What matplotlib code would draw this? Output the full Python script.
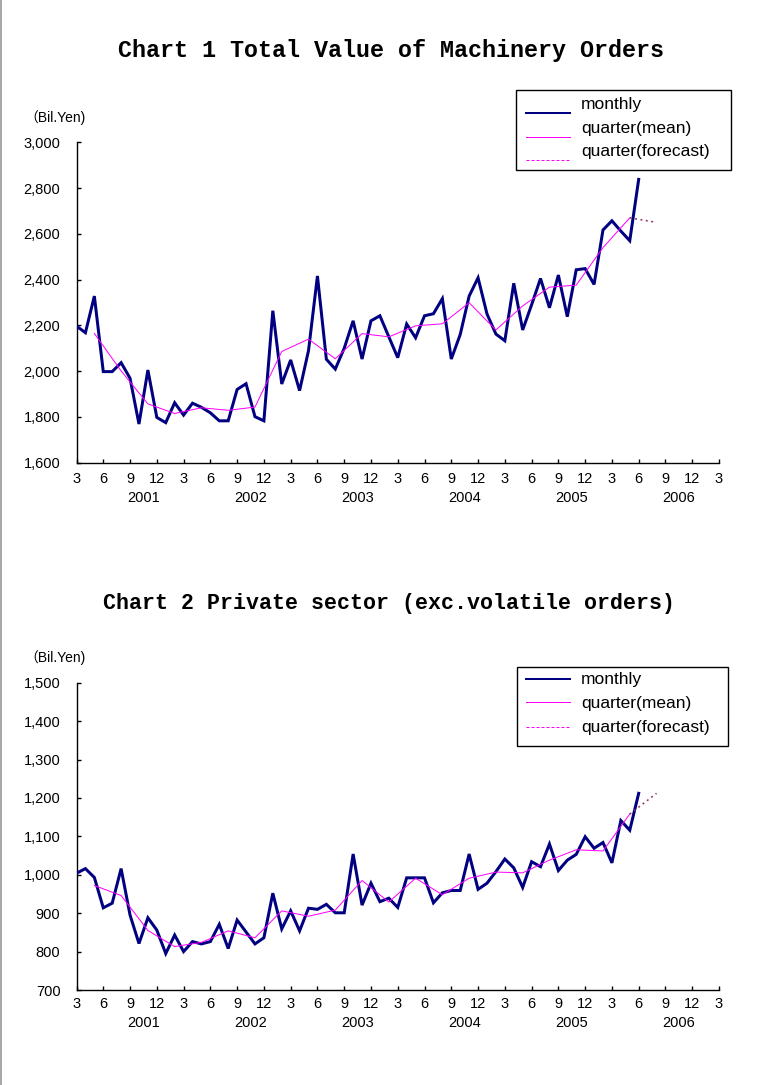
import matplotlib

matplotlib.use("Agg")
import matplotlib.pyplot as plt
from matplotlib.lines import Line2D
from matplotlib.patches import Rectangle

W, H = 772, 1085
NAVY, MAGENTA, PLUM, GRAY = "#000080", "#ff00ff", "#993366", "#a8a8a8"
SANS = ["Liberation Sans", "Noto Sans CJK JP", "DejaVu Sans"]
MONO = ["Liberation Mono", "DejaVu Sans Mono"]
PT = 0.72  # points per pixel at 100 dpi

# month index 0 = March 2001
MONTH_TICKS = list(range(0, 73, 3))
MONTH_LABELS = ["3", "6", "9", "12"] * 6 + ["3"]
YEARS = ["2001", "2002", "2003", "2004", "2005", "2006"]
YEAR_POS = [7.5, 19.5, 31.5, 43.5, 55.5, 67.5]
MONTHS = list(range(64))
QUARTER_MID = [2, 5, 8, 11, 14, 17, 20, 23, 26, 29, 32, 35, 38, 41, 44, 47, 50, 53, 56, 59, 62]
FORECAST_POS = [62, 65]

TOTAL_MONTHLY = [
    2197, 2168, 2328, 1998, 1998, 2037, 1969, 1769, 2005, 1798, 1775, 1862,
    1808, 1860, 1842, 1818, 1783, 1783, 1920, 1945, 1801, 1783, 2264, 1944,
    2049, 1915, 2090, 2416, 2052, 2009, 2100, 2220, 2053, 2220, 2242, 2150,
    2059, 2206, 2146, 2242, 2251, 2317, 2053, 2160, 2328, 2408, 2250, 2162,
    2133, 2384, 2180, 2290, 2405, 2277, 2420, 2238, 2443, 2448, 2379, 2617,
    2657, 2612, 2570, 2838,
]
TOTAL_QUARTER = [
    2165, 2001, 1857, 1815, 1840, 1829, 1843, 2086, 2140, 2054, 2164, 2150,
    2198, 2207, 2299, 2180, 2285, 2367, 2376, 2540, 2670,
]
TOTAL_FORECAST = [2670, 2650]

PRIVATE_MONTHLY = [
    1004, 1016, 993, 914, 926, 1016, 895, 821, 888, 856, 795, 843,
    800, 826, 820, 826, 871, 808, 882, 851, 820, 836, 952, 859,
    906, 854, 913, 910, 923, 901, 901, 1054, 921, 978, 930, 939,
    915, 992, 992, 992, 927, 953, 959, 959, 1054, 962, 978, 1008,
    1041, 1018, 967, 1034, 1021, 1080, 1011, 1038, 1053, 1099, 1069, 1084,
    1031, 1141, 1116, 1212,
]
PRIVATE_QUARTER = [
    972, 946, 855, 813, 824, 854, 836, 906, 892, 908, 985, 929,
    991, 948, 991, 1007, 1005, 1038, 1065, 1062, 1158,
]
PRIVATE_FORECAST = [1158, 1212]

LEGEND_TEXT = ["monthly", "quarter(mean)", "quarter(forecast)"]


def fx(x):
    return x / W


def fy(y):
    return 1 - y / H


def make_axes(fig, left, top, right, bottom):
    return fig.add_axes([fx(left), fy(bottom), fx(right) - fx(left), (bottom - top) / H])


def style_axes(ax, ylo, yhi, step, label_dy, year_dy):
    ax.set_xlim(0, 72)
    ax.set_ylim(ylo, yhi)
    for s in ("top", "right"):
        ax.spines[s].set_visible(False)
    for s in ("left", "bottom"):
        ax.spines[s].set_linewidth(1.0)
    ax.tick_params(direction="in", length=4 * PT, width=1.0, color="black")
    ax.set_yticks(range(ylo, yhi + 1, step))
    ax.set_yticklabels([f"{v:,}" for v in range(ylo, yhi + 1, step)],
                       family=SANS, fontsize=10.5, color="black")
    ax.tick_params(axis="y", pad=16 * PT)
    ax.set_xticks(MONTH_TICKS)
    ax.set_xticklabels([])
    for pos, lab in zip(MONTH_TICKS, MONTH_LABELS):
        ax.annotate(lab, (pos, 0), xycoords=("data", "axes fraction"),
                    xytext=(0, -label_dy * PT), textcoords="offset points",
                    ha="center", va="baseline", family=SANS, fontsize=10.5)
    for pos, lab in zip(YEAR_POS, YEARS):
        ax.annotate(lab, (pos, 0), xycoords=("data", "axes fraction"),
                    xytext=(0, -year_dy * PT), textcoords="offset points",
                    ha="center", va="baseline", family=SANS, fontsize=10.5)


def draw_series(ax, monthly, quarter, forecast):
    ax.plot(MONTHS, monthly, color=NAVY, lw=3 * PT, solid_joinstyle="miter", zorder=3)
    ax.plot(QUARTER_MID, quarter, color=MAGENTA, lw=1 * PT, zorder=4)
    ax.plot(FORECAST_POS, forecast, color=PLUM, lw=1.6 * PT, ls=(0, (1.2, 2.2)), zorder=4)


def draw_legend(fig, box, text_y, line_y):
    x0, y0, x1, y1 = box
    fig.add_artist(Rectangle((fx(x0), fy(y1)), fx(x1) - fx(x0), (y1 - y0) / H,
                             transform=fig.transFigure, fill=False,
                             edgecolor="black", lw=1.0))
    styles = [dict(color=NAVY, lw=2 * PT),
              dict(color=MAGENTA, lw=1 * PT),
              dict(color=MAGENTA, lw=1 * PT, ls=(0, (3, 2)))]
    for lab, ty, ly, st in zip(LEGEND_TEXT, text_y, line_y, styles):
        fig.add_artist(Line2D([fx(526), fx(570)], [fy(ly), fy(ly)],
                              transform=fig.transFigure, **st))
        fig.text(fx(581), fy(ty + 6), lab, family=SANS, fontsize=12.5,
                 ha="left", va="baseline")


def main():
    fig = plt.figure(figsize=(W / 100, H / 100), dpi=100)
    fig.add_artist(Line2D([fx(1), fx(1)], [0, 1], color=GRAY, lw=2 * PT,
                          transform=fig.transFigure))

    # chart 1
    fig.text(fx(391), fy(50), "Chart 1 Total Value of Machinery Orders",
             family=MONO, fontweight="bold", fontsize=16.8, ha="center", va="center")
    fig.text(fx(24), fy(118), "（Bil.Yen)", family=SANS, fontsize=10,
             ha="left", va="center")
    ax1 = make_axes(fig, 76.5, 142.3, 719, 462.7)
    style_axes(ax1, 1600, 3000, 200, 20.5, 39)
    draw_series(ax1, TOTAL_MONTHLY, TOTAL_QUARTER, TOTAL_FORECAST)
    draw_legend(fig, (516, 90, 731, 170), [103, 126.7, 150], [112.7, 136.7, 160])

    # chart 2
    fig.text(fx(389), fy(603), "Chart 2 Private sector (exc.volatile orders)",
             family=MONO, fontweight="bold", fontsize=15.6, ha="center", va="center")
    fig.text(fx(24), fy(658), "（Bil.Yen)", family=SANS, fontsize=10,
             ha="left", va="center")
    ax2 = make_axes(fig, 76.5, 682.7, 719, 990)
    style_axes(ax2, 700, 1500, 100, 18.5, 37)
    draw_series(ax2, PRIVATE_MONTHLY, PRIVATE_QUARTER, PRIVATE_FORECAST)
    draw_legend(fig, (516.7, 666.7, 728.3, 745.7), [678.3, 701.7, 725.7], [679, 702.3, 726.7])

    fig.savefig("out.png", dpi=100, facecolor="white")
    plt.close(fig)


if __name__ == "__main__":
    main()
